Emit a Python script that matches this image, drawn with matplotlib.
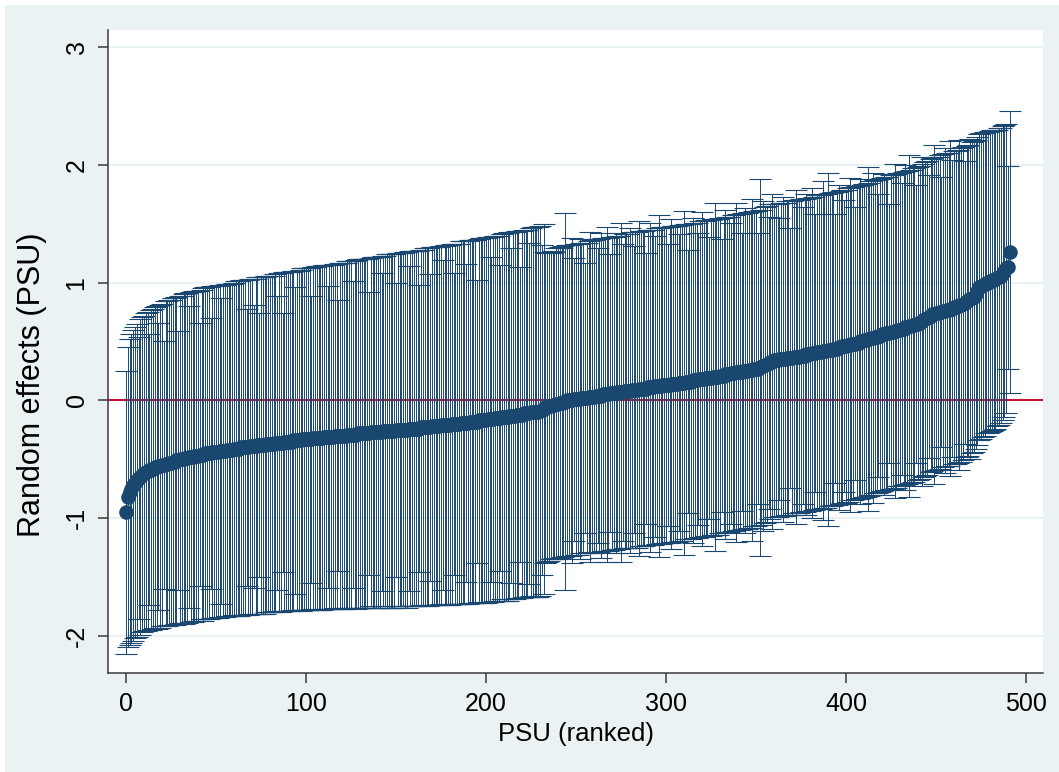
import matplotlib
matplotlib.use("Agg")
import matplotlib.pyplot as plt
import matplotlib.patches as patches
import numpy as np

plt.rcParams['font.family'] = ['Liberation Sans', 'DejaVu Sans']

# ranked PSU random effects (point estimates)
est = [
    -0.95, -0.82, -0.78, -0.75, -0.72, -0.70, -0.68, -0.66, -0.65, -0.63, -0.62, -0.61, -0.60, -0.59, -0.59, -0.58, -0.57, -0.57, -0.56, -0.56,
    -0.55, -0.55, -0.54, -0.54, -0.53, -0.53, -0.52, -0.52, -0.51, -0.51, -0.50, -0.50, -0.50, -0.49, -0.49, -0.48, -0.48, -0.48, -0.47, -0.47,
    -0.47, -0.46, -0.46, -0.46, -0.45, -0.45, -0.45, -0.45, -0.44, -0.44, -0.44, -0.44, -0.43, -0.43, -0.43, -0.43, -0.42, -0.42, -0.42, -0.42,
    -0.41, -0.41, -0.41, -0.41, -0.40, -0.40, -0.40, -0.40, -0.40, -0.39, -0.39, -0.39, -0.39, -0.38, -0.38, -0.38, -0.38, -0.38, -0.37, -0.37,
    -0.37, -0.37, -0.37, -0.36, -0.36, -0.36, -0.36, -0.36, -0.35, -0.35, -0.35, -0.35, -0.35, -0.34, -0.34, -0.34, -0.34, -0.34, -0.33, -0.33,
    -0.33, -0.33, -0.33, -0.33, -0.32, -0.32, -0.32, -0.32, -0.32, -0.32, -0.31, -0.31, -0.31, -0.31, -0.31, -0.31, -0.30, -0.30, -0.30, -0.30,
    -0.30, -0.30, -0.30, -0.29, -0.29, -0.29, -0.29, -0.29, -0.29, -0.28, -0.28, -0.28, -0.28, -0.28, -0.28, -0.28, -0.27, -0.27, -0.27, -0.27,
    -0.27, -0.27, -0.27, -0.26, -0.26, -0.26, -0.26, -0.26, -0.26, -0.26, -0.25, -0.25, -0.25, -0.25, -0.25, -0.25, -0.25, -0.24, -0.24, -0.24,
    -0.24, -0.24, -0.24, -0.24, -0.23, -0.23, -0.23, -0.23, -0.23, -0.23, -0.22, -0.22, -0.22, -0.22, -0.22, -0.21, -0.21, -0.21, -0.21, -0.21,
    -0.21, -0.20, -0.20, -0.20, -0.20, -0.20, -0.19, -0.19, -0.19, -0.19, -0.19, -0.18, -0.18, -0.18, -0.18, -0.18, -0.17, -0.17, -0.17, -0.17,
    -0.17, -0.16, -0.16, -0.16, -0.16, -0.15, -0.15, -0.15, -0.15, -0.14, -0.14, -0.14, -0.14, -0.13, -0.13, -0.13, -0.13, -0.12, -0.12, -0.12,
    -0.12, -0.11, -0.11, -0.11, -0.11, -0.10, -0.10, -0.10, -0.10, -0.10, -0.09, -0.08, -0.07, -0.06, -0.06, -0.05, -0.05, -0.04, -0.04, -0.03,
    -0.03, -0.02, -0.02, -0.01, -0.01, 0.00, 0.00, 0.00, 0.00, 0.01, 0.01, 0.01, 0.01, 0.02, 0.02, 0.02, 0.02, 0.03, 0.03, 0.03,
    0.03, 0.04, 0.04, 0.04, 0.04, 0.05, 0.05, 0.05, 0.05, 0.06, 0.06, 0.06, 0.06, 0.07, 0.07, 0.07, 0.07, 0.08, 0.08, 0.08,
    0.08, 0.09, 0.09, 0.09, 0.09, 0.10, 0.10, 0.10, 0.10, 0.10, 0.11, 0.11, 0.11, 0.11, 0.12, 0.12, 0.12, 0.12, 0.13, 0.13,
    0.13, 0.13, 0.13, 0.14, 0.14, 0.14, 0.14, 0.15, 0.15, 0.15, 0.15, 0.16, 0.16, 0.16, 0.16, 0.17, 0.17, 0.17, 0.18, 0.18,
    0.18, 0.18, 0.19, 0.19, 0.19, 0.19, 0.20, 0.20, 0.20, 0.20, 0.21, 0.21, 0.21, 0.22, 0.22, 0.22, 0.23, 0.23, 0.23, 0.24,
    0.24, 0.24, 0.24, 0.25, 0.25, 0.25, 0.26, 0.26, 0.26, 0.27, 0.27, 0.27, 0.28, 0.28, 0.29, 0.30, 0.31, 0.32, 0.33, 0.33,
    0.34, 0.34, 0.34, 0.35, 0.35, 0.35, 0.35, 0.36, 0.36, 0.36, 0.36, 0.37, 0.37, 0.37, 0.37, 0.38, 0.38, 0.38, 0.39, 0.39,
    0.39, 0.40, 0.40, 0.40, 0.41, 0.41, 0.41, 0.42, 0.42, 0.42, 0.43, 0.43, 0.43, 0.44, 0.44, 0.44, 0.45, 0.45, 0.46, 0.46,
    0.46, 0.47, 0.47, 0.48, 0.48, 0.48, 0.49, 0.49, 0.50, 0.50, 0.51, 0.51, 0.52, 0.52, 0.53, 0.53, 0.54, 0.54, 0.55, 0.55,
    0.56, 0.56, 0.57, 0.57, 0.57, 0.58, 0.58, 0.59, 0.59, 0.60, 0.60, 0.61, 0.61, 0.62, 0.62, 0.63, 0.63, 0.64, 0.64, 0.65,
    0.65, 0.66, 0.67, 0.68, 0.69, 0.70, 0.71, 0.72, 0.73, 0.73, 0.74, 0.74, 0.75, 0.75, 0.76, 0.76, 0.77, 0.77, 0.78, 0.78,
    0.79, 0.79, 0.80, 0.81, 0.81, 0.82, 0.83, 0.84, 0.85, 0.86, 0.87, 0.88, 0.90, 0.93, 0.96, 0.97, 0.98, 0.99, 1.00, 1.00,
    1.01, 1.02, 1.02, 1.03, 1.04, 1.05, 1.06, 1.08, 1.10, 1.12, 1.13, 1.26,
]

# half-width of each confidence interval
ci_half = [
    1.20, 1.27, 1.30, 1.31, 1.32, 1.32, 1.33, 1.20, 1.34, 1.34, 1.34, 1.35, 1.35, 1.15, 1.36, 1.36, 1.36, 1.37, 1.22, 1.37,
    1.37, 1.05, 1.38, 1.38, 1.38, 1.38, 1.39, 1.39, 1.39, 1.10, 1.39, 1.39, 1.40, 1.40, 1.40, 1.28, 1.40, 1.40, 1.40, 1.40,
    1.40, 1.12, 1.40, 1.41, 1.41, 1.41, 1.41, 1.15, 1.41, 1.41, 1.41, 1.41, 1.41, 1.30, 1.41, 1.41, 1.41, 1.41, 1.41, 1.41,
    1.41, 1.42, 1.42, 1.42, 1.42, 1.42, 1.42, 1.18, 1.42, 1.42, 1.42, 1.20, 1.42, 1.43, 1.12, 1.43, 1.43, 1.43, 1.43, 1.43,
    1.43, 1.43, 1.43, 1.43, 1.25, 1.44, 1.44, 1.10, 1.44, 1.44, 1.44, 1.44, 1.44, 1.44, 1.30, 1.44, 1.44, 1.45, 1.45, 1.45,
    1.45, 1.45, 1.45, 1.22, 1.45, 1.45, 1.46, 1.46, 1.46, 1.46, 1.46, 1.46, 1.28, 1.46, 1.46, 1.46, 1.46, 1.46, 1.15, 1.47,
    1.47, 1.47, 1.47, 1.47, 1.47, 1.47, 1.30, 1.47, 1.48, 1.48, 1.48, 1.48, 1.48, 1.48, 1.48, 1.20, 1.48, 1.49, 1.49, 1.49,
    1.49, 1.49, 1.35, 1.49, 1.49, 1.50, 1.50, 1.50, 1.50, 1.50, 1.25, 1.50, 1.50, 1.50, 1.50, 1.51, 1.51, 1.38, 1.51, 1.51,
    1.51, 1.51, 1.51, 1.22, 1.51, 1.51, 1.52, 1.52, 1.52, 1.30, 1.52, 1.52, 1.52, 1.52, 1.52, 1.52, 1.40, 1.52, 1.53, 1.53,
    1.53, 1.53, 1.28, 1.53, 1.53, 1.53, 1.54, 1.54, 1.54, 1.35, 1.54, 1.54, 1.54, 1.54, 1.54, 1.20, 1.54, 1.55, 1.55, 1.55,
    1.55, 1.55, 1.55, 1.38, 1.55, 1.55, 1.55, 1.55, 1.30, 1.55, 1.56, 1.56, 1.56, 1.56, 1.42, 1.56, 1.56, 1.56, 1.56, 1.25,
    1.56, 1.56, 1.56, 1.56, 1.45, 1.56, 1.57, 1.57, 1.57, 1.57, 1.57, 1.40, 1.57, 1.32, 1.31, 1.31, 1.30, 1.31, 1.30, 1.32,
    1.32, 1.32, 1.31, 1.32, 1.60, 1.32, 1.32, 1.32, 1.38, 1.20, 1.32, 1.32, 1.36, 1.32, 1.32, 1.15, 1.32, 1.32, 1.40, 1.33,
    1.33, 1.33, 1.25, 1.33, 1.38, 1.33, 1.33, 1.42, 1.33, 1.18, 1.33, 1.33, 1.36, 1.33, 1.33, 1.44, 1.26, 1.33, 1.33, 1.33,
    1.38, 1.34, 1.22, 1.34, 1.34, 1.42, 1.34, 1.34, 1.34, 1.15, 1.34, 1.40, 1.34, 1.34, 1.28, 1.34, 1.45, 1.34, 1.34, 1.34,
    1.34, 1.20, 1.34, 1.40, 1.34, 1.34, 1.34, 1.26, 1.34, 1.34, 1.46, 1.34, 1.12, 1.34, 1.34, 1.38, 1.34, 1.34, 1.24, 1.34,
    1.42, 1.34, 1.34, 1.34, 1.20, 1.34, 1.34, 1.48, 1.34, 1.34, 1.34, 1.16, 1.34, 1.40, 1.34, 1.34, 1.28, 1.34, 1.34, 1.44,
    1.34, 1.34, 1.18, 1.34, 1.38, 1.34, 1.34, 1.34, 1.45, 1.34, 1.34, 1.15, 1.60, 1.34, 1.40, 1.34, 1.34, 1.24, 1.34, 1.42,
    1.33, 1.33, 1.33, 1.20, 1.33, 1.38, 1.33, 1.33, 1.33, 1.10, 1.33, 1.33, 1.42, 1.33, 1.33, 1.33, 1.26, 1.33, 1.36, 1.33,
    1.33, 1.40, 1.33, 1.18, 1.33, 1.33, 1.33, 1.44, 1.33, 1.33, 1.50, 1.33, 1.33, 1.33, 1.14, 1.33, 1.38, 1.33, 1.33, 1.24,
    1.33, 1.33, 1.42, 1.33, 1.33, 1.16, 1.33, 1.33, 1.38, 1.33, 1.33, 1.33, 1.46, 1.33, 1.33, 1.40, 1.33, 1.33, 1.20, 1.33,
    1.33, 1.36, 1.33, 1.33, 1.10, 1.33, 1.33, 1.42, 1.33, 1.33, 1.33, 1.24, 1.33, 1.38, 1.33, 1.45, 1.33, 1.33, 1.33, 1.18,
    1.33, 1.33, 1.40, 1.33, 1.33, 1.33, 1.20, 1.33, 1.33, 1.44, 1.33, 1.33, 1.33, 1.15, 1.33, 1.38, 1.33, 1.33, 1.42, 1.26,
    1.33, 1.33, 1.33, 1.40, 1.33, 1.33, 1.20, 1.32, 1.32, 1.36, 1.32, 1.32, 1.31, 1.31, 1.30, 1.30, 1.29, 1.29, 1.28, 1.28,
    1.28, 1.28, 1.27, 1.27, 1.26, 1.26, 1.25, 1.25, 1.24, 1.23, 0.86, 1.20,
]

rank = np.arange(len(est))

x_ticks = [0, 100, 200, 300, 400, 500]
y_ticks = [-2, -1, 0, 1, 2, 3]

navy = '#1a476f'
bg = '#eaf2f3'
red = '#c8143c'
axis_col = '#3a3a3a'

fig = plt.figure(figsize=(10.59, 7.72), dpi=100, facecolor=bg)
# thin white margin at top and left, like the exported Stata graph
fig.patches.append(patches.Rectangle((0, 0), 5 / 1059, 1, transform=fig.transFigure,
                                     facecolor='white', edgecolor='none', zorder=0))
fig.patches.append(patches.Rectangle((0, 1 - 5 / 772), 1, 5 / 772, transform=fig.transFigure,
                                     facecolor='white', edgecolor='none', zorder=0))

ax = fig.add_axes([108 / 1059, 99 / 772, 935 / 1059, 643 / 772])
ax.set_facecolor('white')

ax.set_xlim(-10, 509.5)
ax.set_ylim(-2.315, 3.145)

# horizontal grid
for yv in y_ticks:
    ax.axhline(yv, color=bg, lw=1.6, zorder=0)

ax.axhline(0, color=red, lw=1.5, zorder=1)

ax.errorbar(rank, est, yerr=ci_half, fmt='none', ecolor=navy, elinewidth=0.7,
            capsize=8, capthick=0.8, zorder=2)
ax.plot(rank, est, 'o', color=navy, markersize=10.5, markeredgewidth=0, zorder=3)

ax.set_xticks(x_ticks)
ax.set_yticks(y_ticks)
ax.set_yticklabels([str(v) for v in y_ticks], rotation=90, va='center')
ax.tick_params(axis='both', colors=axis_col, labelcolor='black', labelsize=18,
               length=7, width=1.1, pad=7)

for side in ['top', 'right']:
    ax.spines[side].set_visible(False)
for side in ['left', 'bottom']:
    ax.spines[side].set_color(axis_col)
    ax.spines[side].set_linewidth(1.1)

ax.set_xlabel('PSU (ranked)', fontsize=18.5, labelpad=4)
ax.set_ylabel('Random effects (PSU)', fontsize=22)
ax.yaxis.set_label_coords(-0.065, 0.449)

fig.savefig('out.png', dpi=100, facecolor=bg)
